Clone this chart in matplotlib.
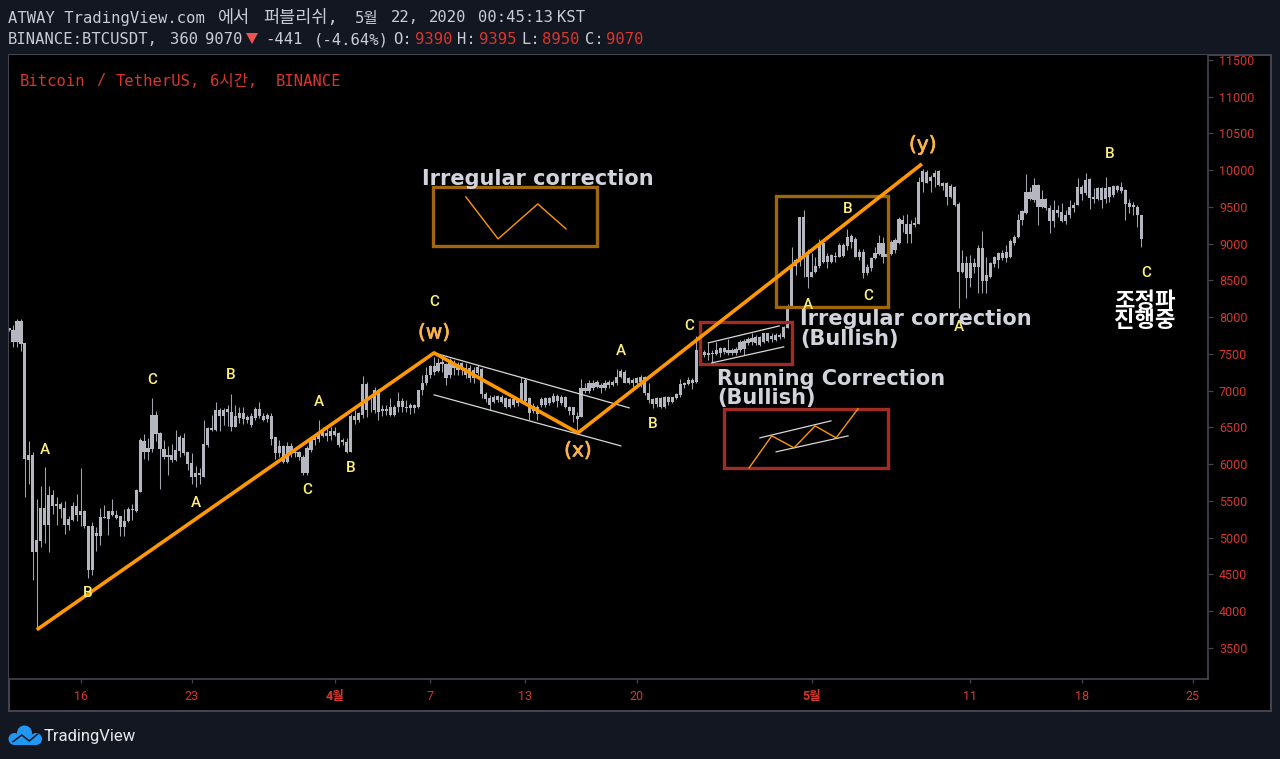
import matplotlib
matplotlib.use("Agg")
import matplotlib.pyplot as plt
import matplotlib.patheffects as pe
from matplotlib.patches import Rectangle, Circle, Polygon
from matplotlib.transforms import Bbox, TransformedBbox

W, H = 1280, 759
BG = "#131722"
EDGE = "#434651"
RED = "#d9362b"
BODY = "#b4b6c0"
WICK = "#a2a4ae"
ORANGE = "#ff9800"
BROWN = "#a0660c"
BRICK = "#a12c25"
YELLOW = "#fff176"
TAG = "#ffb347"
TXT = "#d1d4dc"
HEAD = "#c8ccd4"

# 6h candles
body_top = [
    7850, 7828, 7955, 7955, 7656, 6128, 6128, 4970, 5407, 5407,
    5584, 5584, 5462, 5462, 5407, 5253, 5430, 5430, 5362, 5366,
    5163, 5153, 5067, 5280, 5280, 5366, 5366, 5312, 5290, 5230,
    5394, 5394, 5643, 6323, 6318, 6219, 6672, 6672, 6423, 6210,
    6128, 6128, 6196, 6364, 6360, 6160, 6015, 5879, 5883, 6273,
    6491, 6491, 6740, 6740, 6740, 6749, 6717, 6650, 6695, 6695,
    6640, 6650, 6749, 6754, 6663, 6672, 6650, 6364, 6250, 6250,
    6250, 6250, 6173, 6160, 6105, 6219, 6355, 6400, 6445, 6445,
    6423, 6459, 6459, 6423, 6323, 6296, 6658, 6658, 6695, 7094,
    7094, 6785, 7012, 7012, 6749, 6749, 6772, 6785, 6867, 6867,
    6785, 6808, 6808, 7012, 7112, 7211, 7338, 7338, 7384, 7397,
    7361, 7420, 7352, 7352, 7375, 7307, 7307, 7284, 7329, 7293,
    6958, 6908, 6921, 6930, 6921, 6899, 6885, 6885, 6876, 7103,
    7148, 6908, 6794, 6776, 6890, 6908, 6899, 6930, 6930, 6921,
    6921, 6785, 6772, 6658, 7035, 7035, 7103, 7112, 7125, 7080,
    7103, 7125, 7125, 7193, 7275, 7261, 7171, 7148, 7171, 7193,
    7184, 6967, 6885, 6899, 6899, 6921, 6912, 6912, 6953, 7094,
    7103, 7148, 7148, 7556, 7556, 7533, 7520, 7520, 7556, 7579,
    7588, 7556, 7556, 7565, 7669, 7683, 7701, 7715, 7728, 7728,
    7783, 7783, 7746, 7760, 7760, 7873, 8159, 8712, 8780, 9369,
    9369, 8862, 8621, 8698, 9007, 9007, 8834, 8848, 8834, 8984,
    8984, 9097, 9106, 9061, 8893, 8893, 8689, 8803, 8871, 9007,
    9007, 8862, 9029, 9052, 9333, 9324, 9270, 9270, 9288, 9845,
    9990, 9981, 9904, 9959, 9995, 9832, 9832, 9786, 9777, 9542,
    8735, 8744, 8744, 8735, 8939, 8939, 8576, 8735, 8816, 8880,
    8871, 8893, 9043, 9097, 9324, 9446, 9700, 9700, 9800, 9800,
    9605, 9605, 9483, 9460, 9460, 9428, 9392, 9505, 9528, 9768,
    9768, 9868, 9877, 9632, 9755, 9755, 9755, 9768, 9786, 9786,
    9768, 9732, 9551, 9528, 9505, 9390,
]
body_bottom = [
    7820, 7660, 7660, 7638, 6074, 6060, 4804, 4804, 4959, 5176,
    5176, 5425, 5425, 5394, 5167, 5167, 5244, 5312, 5312, 5153,
    4564, 4564, 5027, 5027, 5270, 5258, 5312, 5267, 5140, 5140,
    5221, 5371, 5362, 5625, 6160, 6160, 6210, 6409, 6210, 6096,
    6096, 6060, 6060, 6182, 6150, 6001, 5820, 5820, 5847, 5833,
    6264, 6468, 6468, 6658, 6658, 6704, 6513, 6513, 6627, 6613,
    6604, 6536, 6627, 6650, 6604, 6618, 6346, 6150, 6150, 6024,
    6024, 6150, 6150, 6105, 5879, 5879, 6196, 6332, 6340, 6391,
    6386, 6386, 6400, 6264, 6296, 6173, 6173, 6604, 6604, 6672,
    6740, 6776, 6740, 6717, 6731, 6731, 6672, 6672, 6785, 6776,
    6763, 6763, 6763, 6776, 7012, 7103, 7216, 7261, 7275, 7366,
    7171, 7216, 7307, 7284, 7320, 7216, 7171, 7171, 7239, 6958,
    6890, 6808, 6853, 6876, 6853, 6785, 6776, 6804, 6831, 6863,
    6863, 6695, 6731, 6686, 6808, 6808, 6831, 6853, 6863, 6831,
    6785, 6731, 6672, 6622, 6640, 7003, 7003, 7035, 7057, 7035,
    7035, 7080, 7080, 7112, 7193, 7112, 7112, 7112, 7112, 7125,
    6967, 6876, 6822, 6822, 6785, 6785, 6853, 6853, 6899, 6944,
    7080, 7094, 7103, 7125, 7488, 7488, 7488, 7502, 7502, 7520,
    7533, 7511, 7520, 7520, 7556, 7565, 7647, 7669, 7656, 7624,
    7669, 7683, 7701, 7692, 7728, 7737, 7851, 8136, 8698, 8757,
    8803, 8553, 8553, 8621, 8698, 8757, 8757, 8757, 8816, 8825,
    8834, 8970, 9029, 8825, 8825, 8599, 8599, 8667, 8803, 8862,
    8825, 8825, 8857, 8916, 9007, 9270, 9134, 9134, 9256, 9270,
    9845, 9832, 9859, 9904, 9800, 9786, 9641, 9641, 9528, 8621,
    8621, 8531, 8531, 8689, 8689, 8499, 8499, 8553, 8726, 8780,
    8803, 8803, 8825, 9016, 9088, 9324, 9424, 9605, 9596, 9496,
    9496, 9483, 9315, 9315, 9415, 9315, 9315, 9392, 9483, 9528,
    9678, 9687, 9619, 9605, 9605, 9596, 9605, 9641, 9664, 9732,
    9723, 9542, 9505, 9505, 9392, 9070,
]
highs = [
    7860, 7896, 7973, 7973, 7656, 6318, 6160, 5525, 5698, 5960,
    5698, 5643, 5561, 5493, 5498, 5298, 5493, 5593, 5947, 5380,
    5163, 5212, 5144, 5403, 5444, 5366, 5525, 5380, 5290, 5394,
    5416, 5457, 5666, 6355, 6409, 6355, 6899, 6722, 6432, 6332,
    6250, 6273, 6468, 6400, 6423, 6173, 6150, 5970, 5947, 6604,
    6513, 6672, 6844, 6763, 6763, 6808, 6958, 6808, 6785, 6776,
    6672, 6695, 6772, 6853, 6695, 6695, 6695, 6377, 6323, 6264,
    6309, 6287, 6196, 6182, 6128, 6250, 6386, 6414, 6604, 6513,
    6513, 6513, 6513, 6432, 6355, 6355, 6686, 6740, 6717, 7207,
    7125, 6899, 7048, 7021, 6808, 6808, 6899, 6808, 6989, 6899,
    6876, 6831, 6817, 7012, 7216, 7329, 7352, 7465, 7452, 7443,
    7375, 7443, 7420, 7397, 7397, 7375, 7352, 7329, 7350, 7307,
    6989, 6944, 6944, 6944, 6944, 6921, 6908, 6899, 6899, 7184,
    7171, 6921, 6831, 6808, 6921, 6921, 6921, 6967, 6953, 6944,
    6930, 6794, 6785, 6704, 7157, 7103, 7148, 7148, 7148, 7112,
    7148, 7148, 7148, 7293, 7293, 7284, 7184, 7171, 7184, 7216,
    7202, 7103, 6899, 6921, 6921, 6930, 6930, 6921, 6976, 7157,
    7125, 7193, 7171, 7746, 7565, 7556, 7647, 7556, 7669, 7601,
    7601, 7701, 7579, 7601, 7692, 7701, 7728, 7792, 7760, 7746,
    7792, 7792, 7783, 7783, 7792, 7882, 8180, 8952, 8803, 9369,
    9460, 8925, 8871, 8825, 9061, 9029, 8871, 8857, 8893, 9007,
    9007, 9197, 9134, 9088, 8925, 8925, 8726, 8825, 8952, 9120,
    9088, 8984, 9052, 9075, 9360, 9392, 9406, 9324, 9369, 9904,
    10013, 10004, 9936, 10004, 10004, 9845, 9845, 9814, 9786, 9573,
    8916, 8834, 8848, 8803, 8984, 9179, 8816, 8757, 8834, 8893,
    8916, 8984, 9061, 9120, 9406, 9460, 9950, 9777, 9891, 9809,
    9732, 9619, 9528, 9596, 9528, 9551, 9460, 9596, 9573, 9891,
    9800, 9959, 9891, 9755, 9768, 9768, 9904, 9777, 9800, 9800,
    9845, 9741, 9605, 9573, 9528, 9395,
]
lows = [
    7810, 7592, 7592, 7547, 5560, 5733, 4419, 3760, 4868, 4927,
    4804, 5326, 5167, 5267, 5054, 5099, 5221, 5221, 5153, 5131,
    4446, 4496, 4813, 4904, 5270, 5040, 5290, 5253, 5017, 5017,
    5208, 5244, 5348, 5616, 6074, 6060, 6173, 6318, 5666, 6074,
    5856, 6037, 6050, 6105, 6128, 5924, 5734, 5688, 5734, 5833,
    6241, 6446, 6446, 6459, 6536, 6522, 6446, 6504, 6559, 6550,
    6559, 6504, 6604, 6627, 6590, 6581, 6264, 6074, 6105, 6015,
    6015, 6105, 6105, 6060, 5856, 5856, 6173, 6255, 6309, 6377,
    6318, 6323, 6386, 6241, 6264, 6150, 6160, 6550, 6581, 6627,
    6640, 6717, 6695, 6604, 6650, 6672, 6650, 6650, 6717, 6717,
    6717, 6686, 6695, 6763, 6944, 7080, 7171, 7216, 7261, 7261,
    7080, 7171, 7216, 7216, 7216, 7171, 7125, 7103, 7220, 6899,
    6853, 6740, 6831, 6840, 6831, 6763, 6763, 6785, 6794, 6844,
    6853, 6604, 6695, 6604, 6785, 6785, 6808, 6831, 6785, 6808,
    6763, 6672, 6581, 6468, 6640, 6967, 6967, 7012, 7035, 6976,
    7012, 7035, 7066, 7080, 7171, 7103, 7094, 7048, 7080, 7048,
    6944, 6831, 6763, 6785, 6763, 6763, 6808, 6831, 6885, 6921,
    7035, 7080, 7021, 7112, 7429, 7456, 7420, 7384, 7488, 7465,
    7502, 7488, 7488, 7488, 7533, 7488, 7624, 7624, 7624, 7610,
    7647, 7669, 7669, 7683, 7701, 7715, 7850, 8122, 8576, 8698,
    8553, 8395, 8544, 8608, 8667, 8735, 8667, 8744, 8757, 8816,
    8825, 8916, 8939, 8816, 8780, 8531, 8576, 8635, 8789, 8848,
    8735, 8816, 8848, 8880, 8998, 9165, 9007, 9007, 9233, 9270,
    9709, 9823, 9709, 9777, 9786, 9732, 9528, 9619, 9514, 8122,
    8599, 8259, 8417, 8599, 8327, 8336, 8327, 8531, 8689, 8667,
    8780, 8757, 8803, 8984, 9075, 9256, 9406, 9596, 9573, 9256,
    9483, 9460, 9152, 9224, 9369, 9301, 9270, 9347, 9437, 9528,
    9596, 9664, 9469, 9551, 9596, 9483, 9560, 9573, 9641, 9709,
    9687, 9324, 9424, 9392, 9233, 8950,
]

# Elliott wave drawing, candle index / price
wave_x = [7, 107, 143.2, 229.8]
wave_y = [3748, 7515, 6427, 10086]
upper_chan_x = [107, 156.1]
upper_chan_y = [7515, 6767]
lower_chan_x = [107, 154]
lower_chan_y = [6944, 6250]
small_upper_x = [176, 193.9]
small_upper_y = [7651, 7882]
small_lower_x = [176.9, 195]
small_lower_y = [7379, 7597]
sketch1_x = [115, 123.1, 133.1, 140.2]
sketch1_y = [9637, 9066, 9542, 9202]
sketch2_x = [186.3, 192, 197.6, 202.9, 208.2, 213.7]
sketch2_y = [5951, 6386, 6223, 6522, 6359, 6754]
sketch2_up_x = [189, 206.9]
sketch2_up_y = [6359, 6590]
sketch2_lo_x = [193.1, 211.2]
sketch2_lo_y = [6169, 6386]

# (left, right, bottom, top, colour)
boxes = [
    (106.7, 148, 8970, 9773, BROWN),
    (193, 221.2, 8141, 9650, BROWN),
    (173.9, 197.1, 7366, 7937, BRICK),
    (180, 221.2, 5951, 6754, BRICK),
]

abc_text = ["A", "B", "C", "B", "A", "A", "C", "B", "C", "A", "B", "C", "A", "B", "C", "A", "B", "C"]
abc_x = [9.07, 19.9, 36, 55.9, 47.1, 78, 75, 86.1, 107, 154, 162.1, 171.2, 201.1, 211.2, 216.2, 239.1, 277.1, 286.2]
abc_y = [6196, 4251, 7148, 7216, 5475, 6849, 5652, 5951, 8209, 7542, 6550, 7882, 8168, 9474, 8290, 7869, 10222, 8603]
tag_text = ["(w)", "(x)", "(y)"]
tag_x = [107, 143.2, 230]
tag_y = [7787, 6182, 10344]

price_ticks = [3500, 4000, 4500, 5000, 5500, 6000, 6500, 7000, 7500, 8000, 8500, 9000, 9500, 10000, 10500, 11000, 11500]
time_ticks = [18, 46, 82, 106, 130, 158, 202, 242, 270, 298]
time_labels = ["16", "23", "4월", "7", "13", "20", "5월", "11", "18", "25"]

CJK = ["Roboto", "Noto Sans CJK KR"]
MONO = ["DejaVu Sans Mono", "Noto Sans CJK KR"]

fig = plt.figure(figsize=(W / 100, H / 100), dpi=100, facecolor=BG)


def axes_px(x0, y0, x1, y1):
    return fig.add_axes([x0 / W, 1 - y1 / H, (x1 - x0) / W, (y1 - y0) / H])


panel = axes_px(9, 55, 1271, 711)
panel.set_facecolor("black")
panel.set_xticks([])
panel.set_yticks([])
for s in panel.spines.values():
    s.set_color(EDGE)
    s.set_linewidth(1.4)

ax = axes_px(9, 55, 1208, 679)
ax.set_facecolor("black")
ax.set_xlim(0, 301.8)
ax.set_ylim(3078, 11568)
ax.spines["top"].set_visible(False)
ax.spines["left"].set_visible(False)
ax.spines["right"].set_color(EDGE)
ax.spines["bottom"].set_color(EDGE)
ax.spines["right"].set_linewidth(1.2)
ax.spines["bottom"].set_linewidth(1.2)

idx = list(range(len(highs)))
ax.vlines(idx, lows, highs, color=WICK, lw=0.75, zorder=2)
ax.bar(idx, [t - b for t, b in zip(body_top, body_bottom)], bottom=body_bottom,
       width=0.8, color=BODY, linewidth=0, zorder=3)

for l, r, b, t, c in boxes:
    ax.add_patch(Rectangle((l, b), r - l, t - b, fill=False, ec=c, lw=2.4, joinstyle="miter", zorder=4))

for xs, ys in [(upper_chan_x, upper_chan_y), (lower_chan_x, lower_chan_y),
               (small_upper_x, small_upper_y), (small_lower_x, small_lower_y),
               (sketch2_up_x, sketch2_up_y), (sketch2_lo_x, sketch2_lo_y)]:
    ax.plot(xs, ys, color="#d8d8d8", lw=0.9, zorder=5)
ax.plot(sketch1_x, sketch1_y, color=ORANGE, lw=1.0, zorder=5)
ax.plot(sketch2_x, sketch2_y, color=ORANGE, lw=1.0, zorder=5)
ax.plot(wave_x, wave_y, color=ORANGE, lw=2.6, zorder=6, solid_capstyle="butt")

for t, x, y in zip(abc_text, abc_x, abc_y):
    ax.text(x, y, t, color=YELLOW, fontsize=11, family="Roboto", weight="medium", ha="center", va="center", zorder=7)
for t, x, y in zip(tag_text, tag_x, tag_y):
    ax.text(x, y, t, color=TAG, fontsize=14.5, family="DejaVu Sans", ha="center", va="center", zorder=7,
            path_effects=[pe.withStroke(linewidth=0.5, foreground=TAG)])

big = dict(color=TXT, fontsize=15, family="DejaVu Sans", weight="bold", va="center", zorder=8)
ax.text(133.1, 9880, "Irregular correction", ha="center", **big)
ax.text(199.1, 7842, "Irregular correction\n(Bullish)", ha="left", linespacing=1.02, **big)
ax.text(178.2, 7032, "Running Correction\n(Bullish)", ha="left", linespacing=0.98, **big)
ax.text(286, 8086, "조정파\n진행중", color="white", fontsize=16, family="Noto Sans CJK KR",
        weight="bold", ha="center", va="center", linespacing=0.82, zorder=8)

ax.yaxis.tick_right()
ax.set_yticks(price_ticks)
ax.set_yticklabels([str(p) for p in price_ticks], color=RED, fontsize=9, family="Roboto")
ax.tick_params(axis="y", length=3.6, width=0.9, color=EDGE, pad=4.3)
ax.set_xticks(time_ticks)
ax.set_xticklabels(time_labels, color=RED, fontsize=9, family=CJK)
ax.tick_params(axis="x", length=3, width=0.9, color=EDGE, pad=5.2)
for lab in ax.get_xticklabels():
    if "월" in lab.get_text():
        lab.set_fontweight("bold")
clip = TransformedBbox(Bbox([[0, 0], [1, 1]]), panel.transAxes)
for lab in ax.get_yticklabels():
    lab.set_clip_on(True)
    lab.set_clip_box(clip)

# page furniture in pixel coordinates
pix = axes_px(0, 0, W, H)
pix.set_xlim(0, W)
pix.set_ylim(H, 0)
pix.axis("off")
pix.patch.set_alpha(0)

head = dict(color=HEAD, fontsize=11.2, family=MONO, va="center")
for x, t in [(8, "ATWAY TradingView.com"), (354.4, "5월"), (391, "22,"),
             (429, "2020"), (478, "00:45:13"), (556.5, "KST")]:
    pix.text(x, 18, t, **head)
# the Korean words sit a bit larger than the latin text
for x, t in [(218, "에서"), (263, "퍼블리쉬,")]:
    pix.text(x, 18, t, color=HEAD, fontsize=12.6, family=MONO, va="center")
for x, t in [(8, "BINANCE:BTCUSDT,"), (170, "360"), (205, "9070"), (265, "-441"), (313.5, "(-4.64%)"),
             (393.5, "O:"), (457.5, "H:"), (521, "L:"), (585, "C:")]:
    pix.text(x, 40, t, **head)
for x, t in [(414.5, "9390"), (478.5, "9395"), (542, "8950"), (606, "9070")]:
    pix.text(x, 40, t, color=RED, fontsize=11.2, family=MONO, va="center")
pix.add_patch(Polygon([(246, 33), (258, 33), (252, 44)], closed=True, color="#ef5350", lw=0))
for x, t in [(20, "Bitcoin"), (96, "/"), (116, "TetherUS,"), (210, "6시간,"), (276, "BINANCE")]:
    pix.text(x, 81, t, color=RED, fontsize=11.2, family=MONO, va="center")

# TradingView logo
for cx, cy, r in [(14.5, 739, 6), (24.5, 733, 7.5), (36, 739, 6)]:
    pix.add_patch(Circle((cx, cy), r, color="#2196f3", lw=0))
pix.add_patch(Rectangle((14, 736), 22, 9, color="#2196f3", lw=0))
pix.plot([13, 21.7, 29.3, 37.3], [741.7, 735, 741, 734.3], color="#131722", lw=1.1)
pix.text(44, 736, "TradingView", color="#e8e9ec", fontsize=12, family="Roboto", va="center")

fig.savefig("out.png", dpi=100, facecolor=BG)
